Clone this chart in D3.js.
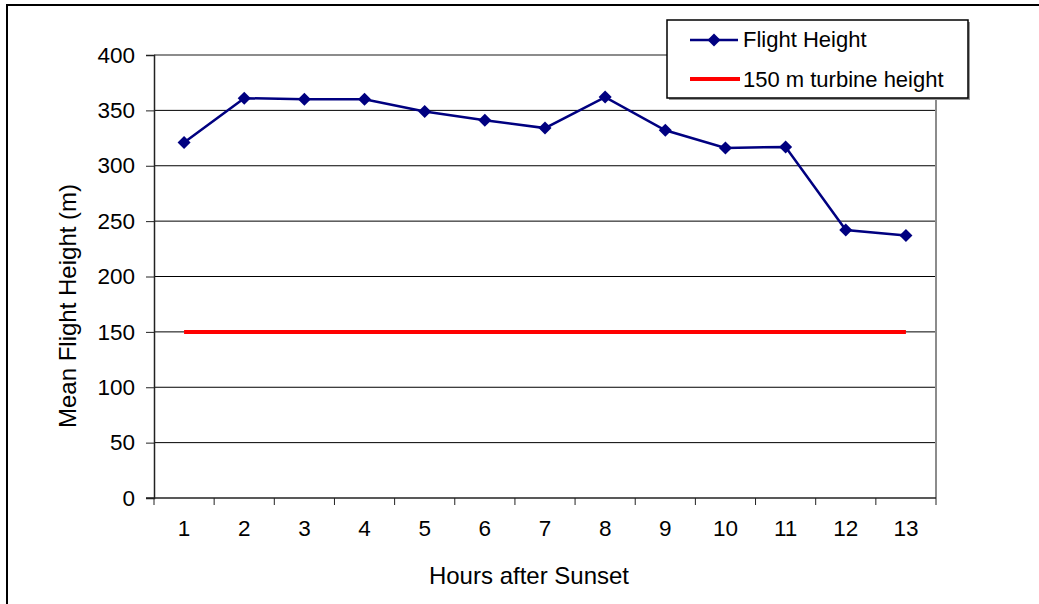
<!DOCTYPE html>
<html>
<head>
<meta charset="utf-8">
<script src="https://cdn.jsdelivr.net/npm/d3@7"></script>
<style>
  body { margin: 0; background: #fff; }
  svg { display: block; font-family: "Liberation Sans", Arial, sans-serif; }
</style>
</head>
<body>
<div class="container"></div>
<script>
// data
const hours = ['1', '2', '3', '4', '5', '6', '7', '8', '9', '10', '11', '12', '13']
const flightHeight = [321, 361, 360, 360, 349, 341, 334, 362, 332, 316, 317, 242, 237]
const turbineHeight = 150
const yTicks = [0, 50, 100, 150, 200, 250, 300, 350, 400]

const margin = { top: 55, left: 154, right: 103, bottom: 106 }
const width = 1039 - margin.left - margin.right
const height = 604 - margin.top - margin.bottom

const svg = d3.select('.container').append('svg')
    .attr('width', 1039)
    .attr('height', 604)

// outer frame (top and left only visible)
svg.append('path')
    .attr('d', 'M7,604V5H1039')
    .attr('fill', 'none')
    .attr('stroke', '#000')
    .attr('stroke-width', 2)

const g = svg.append('g')
    .attr('transform', `translate(${margin.left},${margin.top})`)

const x = d3.scaleBand().domain(hours).range([0, width]).padding(0)
const y = d3.scaleLinear().domain([0, 400]).range([height, 0])
const cx = d => x(d) + x.bandwidth() / 2

// gridlines
g.selectAll('.grid')
    .data(yTicks.filter(t => t > 0 && t < 400))
    .enter()
    .append('line')
    .attr('class', 'grid')
    .attr('x1', 0).attr('x2', width)
    .attr('y1', d => y(d)).attr('y2', d => y(d))
    .attr('stroke', '#000')
    .attr('stroke-width', 1)

// plot border top/right (grey)
g.append('path')
    .attr('d', `M0,${y(400)}H${width}V${height}`)
    .attr('fill', 'none')
    .attr('stroke', '#8c8c8c')
    .attr('stroke-width', 2)

// y axis
const yAxis = g.append('g')
    .call(d3.axisLeft(y).tickValues(yTicks).tickSize(8).tickPadding(11))
yAxis.select('.domain').attr('stroke', '#222').attr('stroke-width', 1.5)
yAxis.selectAll('.tick line').attr('stroke', '#222')
yAxis.selectAll('text').style('font-size', '22.5px').attr('fill', '#000')

// x axis: ticks at band edges
const xAxisG = g.append('g').attr('transform', `translate(0,${height})`)
xAxisG.append('line')
    .attr('x1', -8).attr('x2', width)
    .attr('stroke', '#222').attr('stroke-width', 1.5)
xAxisG.selectAll('.xtick')
    .data(hours.concat(['end']))
    .enter()
    .append('line')
    .attr('x1', d => d === 'end' ? width : x(d))
    .attr('x2', d => d === 'end' ? width : x(d))
    .attr('y1', 0).attr('y2', 7)
    .attr('stroke', '#222')
xAxisG.selectAll('.xlabel')
    .data(hours)
    .enter()
    .append('text')
    .attr('x', d => cx(d))
    .attr('y', 38)
    .attr('text-anchor', 'middle')
    .style('font-size', '22.5px')
    .text(d => d)

// axis titles
svg.append('text')
    .attr('x', 529)
    .attr('y', 584)
    .attr('text-anchor', 'middle')
    .style('font-size', '24px')
    .text('Hours after Sunset')

svg.append('text')
    .attr('transform', 'translate(76,306) rotate(-90)')
    .attr('text-anchor', 'middle')
    .style('font-size', '24px')
    .text('Mean Flight Height (m)')

// turbine line
g.append('line')
    .attr('x1', cx(hours[0])).attr('x2', cx(hours[hours.length - 1]))
    .attr('y1', y(turbineHeight)).attr('y2', y(turbineHeight))
    .attr('stroke', '#ff0000')
    .attr('stroke-width', 4)

// flight height series
const line = d3.line()
    .x((d, i) => cx(hours[i]))
    .y(d => y(d))

g.append('path')
    .datum(flightHeight)
    .attr('d', line)
    .attr('fill', 'none')
    .attr('stroke', '#000080')
    .attr('stroke-width', 2.5)

const diamond = d3.symbol().type(d3.symbolSquare).size(85)

g.selectAll('.dot')
    .data(flightHeight)
    .enter()
    .append('path')
    .attr('class', 'dot')
    .attr('d', diamond)
    .attr('transform', (d, i) => `translate(${cx(hours[i])},${y(d)}) rotate(45)`)
    .attr('fill', '#000080')

// legend
const legend = svg.append('g').attr('id', 'legend')
legend.append('rect')
    .attr('x', 669).attr('y', 22)
    .attr('width', 301).attr('height', 78)
    .attr('fill', '#999')
legend.append('rect')
    .attr('x', 667).attr('y', 20)
    .attr('width', 301).attr('height', 78)
    .attr('fill', '#fff')
    .attr('stroke', '#000')
    .attr('stroke-width', 1.5)

legend.append('line')
    .attr('x1', 690).attr('x2', 738)
    .attr('y1', 40).attr('y2', 40)
    .attr('stroke', '#000080').attr('stroke-width', 2.5)
legend.append('path')
    .attr('d', diamond)
    .attr('transform', 'translate(714,40) rotate(45)')
    .attr('fill', '#000080')
legend.append('text')
    .attr('x', 743).attr('y', 47)
    .style('font-size', '22px')
    .text('Flight Height')

legend.append('line')
    .attr('x1', 690).attr('x2', 740)
    .attr('y1', 79).attr('y2', 79)
    .attr('stroke', '#ff0000').attr('stroke-width', 4)
legend.append('text')
    .attr('x', 743).attr('y', 87)
    .style('font-size', '22px')
    .text('150 m turbine height')
</script>
</body>
</html>
